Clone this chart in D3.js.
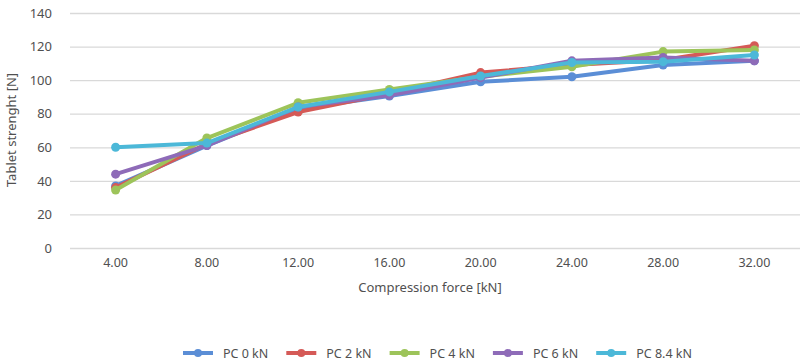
<!DOCTYPE html>
<html>
<head>
<meta charset="utf-8">
<script src="https://cdn.jsdelivr.net/npm/d3@7/dist/d3.min.js"></script>
<style>
    body { margin: 0; background: #fff; }
    text { font-family: "Noto Sans", sans-serif; fill: #505050; }
</style>
</head>
<body>
<script>
    var categories = ["4.00", "8.00", "12.00", "16.00", "20.00", "24.00", "28.00", "32.00"];
    var yTicks = [0, 20, 40, 60, 80, 100, 120, 140];
    var seriesNames = ["PC 0 kN", "PC 2 kN", "PC 4 kN", "PC 6 kN", "PC 8.4 kN"];
    var pc0 = [37, 61, 83, 90.5, 99, 102, 109, 111.5];
    var pc2 = [36, 62, 81, 92, 104.5, 109, 112, 120.5];
    var pc4 = [34.5, 65.5, 86.5, 94.5, 102, 108, 117, 118];
    var pc6 = [44, 61, 84, 91, 101.5, 111.5, 113.5, 111.5];
    var pc84 = [60, 62.5, 84, 93, 102.5, 110.5, 111, 115];
    var colors = ["#5b8ed6", "#d55a57", "#9dc45a", "#8e6bb8", "#4cb8d8"];
    var series = [pc0, pc2, pc4, pc6, pc84];

    var width = 800, height = 362;
    var margin = {"top" : 13, "bottom" : 114, "left" : 70, "right" : 0};

    var svg = d3.select("body")
        .append("svg")
        .attr("width", width)
        .attr("height", height);

    var xScale = d3.scaleBand()
        .domain(categories)
        .range([margin.left, width - margin.right]);

    var yScale = d3.scaleLinear()
        .domain([0, 140])
        .range([height - margin.bottom, margin.top]);

    //grid + y labels
    var yAxis = svg.append("g")
        .attr("transform", "translate(" + margin.left + ",0)")
        .call(d3.axisLeft(yScale).tickValues(yTicks).tickSize(-(width - margin.left - margin.right)).tickPadding(18));
    yAxis.select(".domain").remove();
    yAxis.selectAll("line")
        .attr("stroke", "#d9d9d9")
        .attr("stroke-width", 1.3);
    yAxis.selectAll("text")
        .style("font-size", "13px")
        .style("fill", "#505050");

    //x labels
    var xAxis = svg.append("g")
        .attr("transform", "translate(0," + (height - margin.bottom) + ")")
        .call(d3.axisBottom(xScale).tickSize(0).tickPadding(10));
    xAxis.select(".domain").remove();
    xAxis.selectAll("text")
        .style("font-size", "12.5px")
        .style("fill", "#505050");

    svg.append("text")
        .attr("x", (margin.left + width) / 2 - 5)
        .attr("y", 292)
        .attr("text-anchor", "middle")
        .style("font-size", "13px")
        .text("Compression force [kN]");

    svg.append("text")
        .attr("transform", "translate(16," + 130 + ") rotate(-90)")
        .attr("text-anchor", "middle")
        .style("font-size", "13px")
        .text("Tablet strenght [N]");

    var line = d3.line()
        .x(function(d, i) { return xScale(categories[i]) + xScale.bandwidth() / 2; })
        .y(function(d) { return yScale(d); });

    //series
    var groups = svg.append("g")
        .selectAll("g")
        .data(series)
        .enter()
        .append("g");

    groups.append("path")
        .attr("d", d => line(d))
        .attr("fill", "none")
        .attr("stroke", (d, i) => colors[i])
        .attr("stroke-width", 4)
        .attr("stroke-linejoin", "round");

    groups.each(function(d, si) {
        d3.select(this)
            .selectAll("circle")
            .data(d)
            .enter()
            .append("circle")
            .attr("cx", (v, i) => xScale(categories[i]) + xScale.bandwidth() / 2)
            .attr("cy", v => yScale(v))
            .attr("r", 4.5)
            .attr("fill", colors[si]);
    });

    //legend
    var legend = svg.append("g")
        .selectAll("g")
        .data(seriesNames)
        .enter()
        .append("g")
        .attr("transform", (d, i) => "translate(" + (183 + i * 103.3) + ",353)");

    legend.append("line")
        .attr("x1", 0).attr("x2", 30)
        .attr("stroke", (d, i) => colors[i])
        .attr("stroke-width", 4);
    legend.append("circle")
        .attr("cx", 15)
        .attr("r", 4)
        .attr("fill", (d, i) => colors[i]);
    legend.append("text")
        .attr("x", 40)
        .attr("y", 4.5)
        .style("font-size", "12.5px")
        .text(d => d);
</script>
</body>
</html>
